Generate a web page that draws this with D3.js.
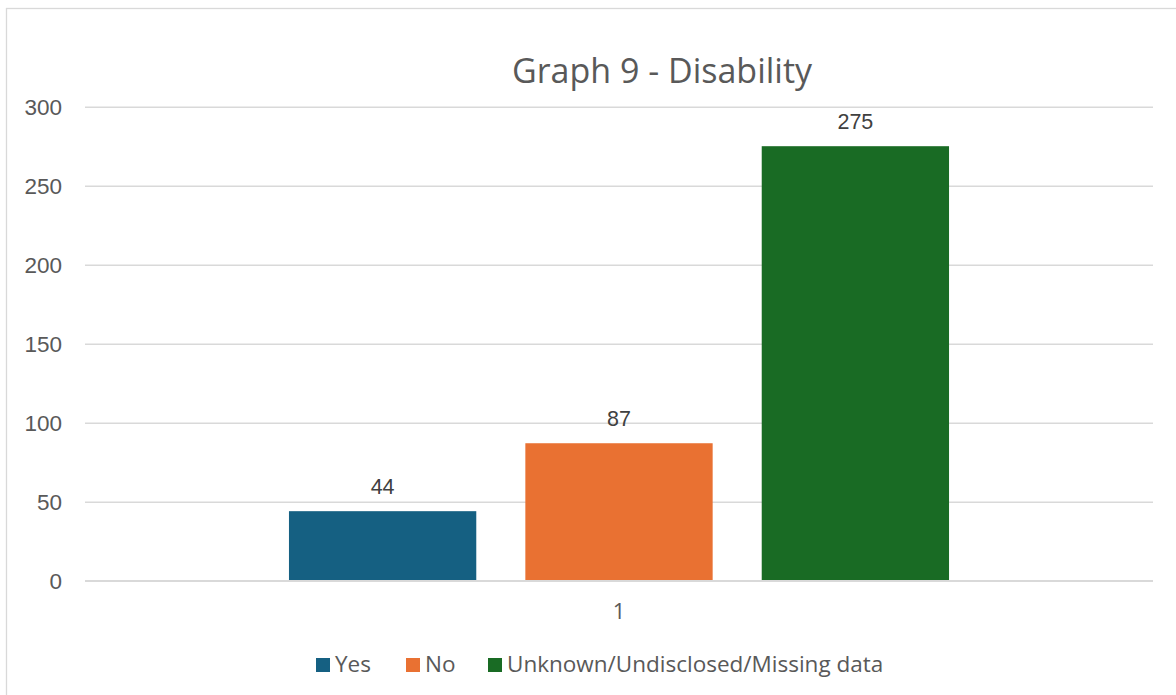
<!DOCTYPE html>
<html>
<head>
<meta charset="utf-8">
<script src="https://cdn.jsdelivr.net/npm/d3@7"></script>
<style>
html,body{margin:0;padding:0;background:#fff;}
svg{display:block;}
</style>
</head>
<body>
<svg id="chart" width="1176" height="695"></svg>
<script>
const categories = ["1"];
const seriesNames = ["Yes", "No", "Unknown/Undisclosed/Missing data"];
const seriesValues = [44, 87, 275];
const seriesColors = ["#156082", "#E97132", "#196B24"];
const yTicks = [0, 50, 100, 150, 200, 250, 300];
const titleText = "Graph 9 - Disability";

const svg = d3.select("#chart");
const plot = {left: 85, right: 1153, top: 106.7, bottom: 580.7};

// chart border
svg.append("rect")
  .attr("x", 6.5).attr("y", 8.5)
  .attr("width", 1300).attr("height", 800)
  .attr("fill", "#fff").attr("stroke", "#d9d9d9").attr("stroke-width", 1.3);

const y = d3.scaleLinear().domain([0, 300]).range([plot.bottom, plot.top]);
const x0 = d3.scaleBand().domain(categories).range([plot.left, plot.right])
  .paddingInner(0).paddingOuter(0.309);
const x1 = d3.scaleBand().domain(seriesNames).range([0, x0.bandwidth()])
  .paddingInner(0.2076).paddingOuter(0);

// gridlines + y labels
const yAxis = d3.axisLeft(y).tickValues(yTicks)
  .tickSize(-(plot.right - plot.left)).tickPadding(23);
const ga = svg.append("g").attr("transform", `translate(${plot.left},0)`).call(yAxis);
ga.select(".domain").remove();
ga.selectAll(".tick line").attr("stroke", "#d9d9d9").attr("stroke-width", 1.4);
ga.selectAll(".tick text")
  .attr("fill", "#595959")
  .attr("dy", "0.36em")
  .style("font-family", "'Liberation Sans', Arial, sans-serif")
  .style("font-size", "22.5px");

// bars
const data = seriesNames.map((s, i) => ({name: s, value: seriesValues[i], color: seriesColors[i], cat: categories[0]}));
const g = svg.append("g");
g.selectAll("rect.bar").data(data).enter().append("rect")
  .attr("class", "bar")
  .attr("x", d => x0(d.cat) + x1(d.name))
  .attr("width", x1.bandwidth())
  .attr("y", d => y(d.value))
  .attr("height", d => y(0) - y(d.value))
  .attr("fill", d => d.color);

// redraw zero line on top
svg.append("line")
  .attr("x1", plot.left).attr("x2", plot.right)
  .attr("y1", y(0)).attr("y2", y(0))
  .attr("stroke", "#d9d9d9").attr("stroke-width", 1.4);

// data labels
g.selectAll("text.lbl").data(data).enter().append("text")
  .attr("class", "lbl")
  .attr("x", d => x0(d.cat) + x1(d.name) + x1.bandwidth() / 2)
  .attr("y", d => y(d.value) - 17)
  .attr("text-anchor", "middle")
  .attr("fill", "#404040")
  .style("font-family", "'Liberation Sans', Arial, sans-serif")
  .style("font-size", "21.5px")
  .text(d => d.value);

// category label
svg.selectAll("text.cat").data(categories).enter().append("text")
  .attr("class", "cat")
  .attr("x", d => x0(d) + x0.bandwidth() / 2)
  .attr("y", 619)
  .attr("text-anchor", "middle")
  .attr("fill", "#595959")
  .style("font-family", "'Open Sans', sans-serif")
  .style("font-size", "22px")
  .text(d => d);

// title
svg.append("text")
  .attr("x", 662).attr("y", 82.5)
  .attr("text-anchor", "middle")
  .attr("fill", "#595959")
  .style("font-family", "'Open Sans', sans-serif")
  .style("font-size", "34px")
  .text(titleText);

// legend
const legendX = [316, 406, 488];
const lg = svg.append("g");
data.forEach((d, i) => {
  lg.append("rect")
    .attr("x", legendX[i]).attr("y", 658)
    .attr("width", 14).attr("height", 14)
    .attr("fill", d.color);
  lg.append("text")
    .attr("x", legendX[i] + 19).attr("y", 672.3)
    .attr("fill", "#595959")
    .style("font-family", "'Open Sans', sans-serif")
    .style("font-size", "22.5px")
    .text(d.name);
});
</script>
</body>
</html>
